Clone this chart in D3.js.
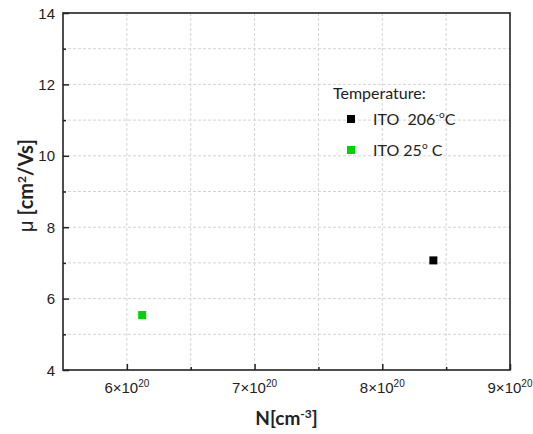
<!DOCTYPE html>
<html><head><meta charset="utf-8">
<script src="https://cdn.jsdelivr.net/npm/d3@7"></script>
<style>body{margin:0;background:#fff}</style>
</head><body>
<svg id="c" width="533" height="434"></svg>
<script>
const seriesNames = ["ITO\u00a0\u00a0206", "ITO 25"];
const seriesColors = ["#000000", "#00d400"];
const xValues = [8.40e20, 6.12e20];
const yValues = [7.07, 5.54];
const xTicks = [6e20, 7e20, 8e20, 9e20];
const yTicks = [4, 6, 8, 10, 12, 14];

const svg = d3.select("#c");
const L = 63, R = 510, T = 13, B = 370;
const x = d3.scaleLinear().domain([5.5e20, 9e20]).range([L, R]);
const y = d3.scaleLinear().domain([4, 14]).range([B, T]);

// grid
const xGrid = d3.range(6e20, 9e20 - 1, 0.5e20);
const yGrid = d3.range(5, 14, 1);
const g = svg.append("g");
g.selectAll(".vx").data(xGrid).enter().append("line")
  .attr("x1", d => x(d)).attr("x2", d => x(d)).attr("y1", T).attr("y2", B)
  .attr("stroke", "#d4d4d4").attr("stroke-width", 1).attr("stroke-dasharray", "3,2");
g.selectAll(".hy").data(yGrid).enter().append("line")
  .attr("y1", d => y(d)).attr("y2", d => y(d)).attr("x1", L).attr("x2", R)
  .attr("stroke", "#d4d4d4").attr("stroke-width", 1).attr("stroke-dasharray", "3,2");

// axes
const xAxis = d3.axisBottom(x).tickValues(xTicks).tickSize(-6).tickFormat("");
const xMinor = d3.axisBottom(x).tickValues([6.5e20, 7.5e20, 8.5e20]).tickSize(-3).tickFormat("");
const yAxis = d3.axisLeft(y).tickValues(yTicks).tickSize(-6).tickFormat("");
const yMinor = d3.axisLeft(y).tickValues([5, 7, 9, 11, 13]).tickSize(-3).tickFormat("");
[svg.append("g").attr("transform", `translate(0,${B})`).call(xAxis),
 svg.append("g").attr("transform", `translate(0,${B})`).call(xMinor),
 svg.append("g").attr("transform", `translate(${L},0)`).call(yAxis),
 svg.append("g").attr("transform", `translate(${L},0)`).call(yMinor)].forEach(a => {
  a.select(".domain").remove();
  a.selectAll("line").attr("stroke", "#222").attr("stroke-width", 1.5);
});
svg.append("rect").attr("x", L).attr("y", T).attr("width", R - L).attr("height", B - T)
  .attr("fill", "none").attr("stroke", "#222").attr("stroke-width", 1.6);

// tick labels
const tf = "'Liberation Sans', Arial, sans-serif";
svg.selectAll(".yl").data(yTicks).enter().append("text")
  .attr("x", L - 8).attr("y", d => y(d) + 5.5).attr("text-anchor", "end")
  .attr("font-family", tf).attr("font-size", 15).attr("fill", "#222").text(d => d);
const xl = svg.selectAll(".xl").data(xTicks).enter().append("text")
  .attr("x", d => x(d)).attr("y", B + 23).attr("text-anchor", "middle")
  .attr("font-family", tf).attr("font-size", 15).attr("fill", "#222");
xl.append("tspan").text(d => Math.round(d / 1e20) + "×10");
xl.append("tspan").attr("dy", -6).attr("font-size", 10).text("20");

// axis titles
const lf = "Lato, 'Open Sans', sans-serif";
const xt = svg.append("text").attr("x", (L + R) / 2).attr("y", 425).attr("text-anchor", "middle")
  .attr("font-family", lf).attr("font-weight", "bold").attr("font-size", 19).attr("fill", "#222");
xt.append("tspan").text("N[cm");
xt.append("tspan").attr("dy", -7).attr("font-size", 12).text("-3");
xt.append("tspan").attr("dy", 7).text("]");
const yt = svg.append("text").attr("transform", `translate(33,${(T + B) / 2 - 6}) rotate(-90)`)
  .attr("text-anchor", "middle")
  .attr("font-family", lf).attr("font-weight", "bold").attr("font-size", 20).attr("fill", "#222");
yt.append("tspan").attr("font-weight", "normal").attr("font-family", tf).text("μ");
yt.append("tspan").text(" [cm");
yt.append("tspan").attr("dy", -7).attr("font-size", 12).text("2");
yt.append("tspan").attr("dy", 7).text("/Vs]");

// points
const pts = xValues.map((v, i) => ({x: v, y: yValues[i], c: seriesColors[i]}));
svg.selectAll(".pt").data(pts).enter().append("rect")
  .attr("x", d => x(d.x) - 4).attr("y", d => y(d.y) - 4)
  .attr("width", 8).attr("height", 8).attr("fill", d => d.c);

// legend
svg.append("text").attr("x", 333).attr("y", 99).attr("font-family", lf).attr("font-size", 16)
  .attr("fill", "#222").text("Temperature:");
seriesNames.forEach((n, i) => {
  const yy = 119 + i * 31;
  svg.append("rect").attr("x", 347).attr("y", yy - 4).attr("width", 8).attr("height", 8).attr("fill", seriesColors[i]);
  const t = svg.append("text").attr("x", 373).attr("y", yy + 6).attr("font-family", lf)
    .attr("font-size", 16).attr("fill", "#222");
  t.append("tspan").text(n);
  if (i === 0) {
    t.append("tspan").attr("dy", -7).attr("font-size", 10).text("-o");
    t.append("tspan").attr("dy", 7).text("C");
  } else {
    t.append("tspan").attr("dy", -7).attr("font-size", 10).text("o");
    t.append("tspan").attr("dy", 7).text(" C");
  }
});
</script>
</body></html>
